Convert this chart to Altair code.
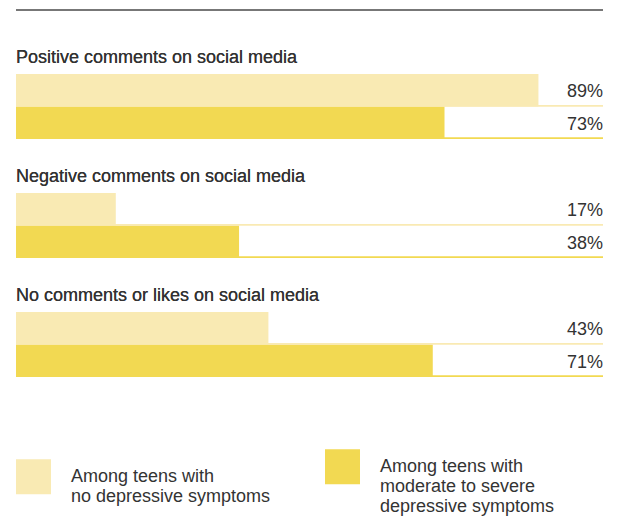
import altair as alt
import pandas as pd

categories = [
    "Positive comments on social media",
    "Negative comments on social media",
    "No comments or likes on social media",
]
series = [
    "Among teens with\nno depressive symptoms",
    "Among teens with\nmoderate to severe\ndepressive symptoms",
]
no_symptoms = [89, 17, 43]
moderate_severe = [73, 38, 71]
colors = ["#F9EAB3", "#F2D952"]

rows = []
for i, c in enumerate(categories):
    for s, vals in zip(series, [no_symptoms, moderate_severe]):
        rows.append({"category": c, "group": s, "value": vals[i], "label": f"{vals[i]}%"})
df = pd.DataFrame(rows)

FONT = "Liberation Sans"
TXT = "#333333"

x_scale = alt.Scale(domain=[0, 100], nice=False, zero=True)
y_scale = alt.Scale(domain=categories, paddingInner=0.4538, paddingOuter=0.538)
off_scale = alt.Scale(domain=series, paddingInner=0, paddingOuter=0)
color_scale = alt.Scale(domain=series, range=colors)

legend = alt.Legend(
    title=None, orient="none", legendX=0, legendY=439,
    direction="horizontal", columns=2,
    symbolType="square", symbolSize=1225, symbolStrokeWidth=0, symbolOpacity=1,
    labelFont=FONT, labelFontSize=18, labelColor=TXT, labelOffset=20,
    columnPadding=54, labelLimit=400, labelBaseline="middle",
    labelExpr="split(datum.label, '\\n')",
)

base = alt.Chart(df)

bars = base.mark_bar().encode(
    x=alt.X("value:Q", scale=x_scale, axis=None),
    y=alt.Y("category:N", scale=y_scale, axis=None),
    yOffset=alt.YOffset("group:N", scale=off_scale),
    color=alt.Color("group:N", scale=color_scale, legend=legend),
)

# thin baseline under each bar row (band centre = bottom of first row)
line_a = base.mark_rule(strokeWidth=1.5, color=colors[0], yOffset=-0.75).encode(
    x=alt.datum(0), x2=alt.datum(100),
    y=alt.Y("category:N", scale=y_scale, axis=None),
)
line_b = base.mark_rule(strokeWidth=1.5, color=colors[1], yOffset=31.75).encode(
    x=alt.datum(0), x2=alt.datum(100),
    y=alt.Y("category:N", scale=y_scale, axis=None),
)

top_rule = base.mark_rule(color="#777777", strokeWidth=2).encode(
    x=alt.datum(0), x2=alt.datum(100), y=alt.value(0)
)

values = base.mark_text(
    align="right", baseline="middle", dy=2, font=FONT, fontSize=18, color=TXT
).encode(
    x=alt.datum(100),
    y=alt.Y("category:N", scale=y_scale, axis=None),
    yOffset=alt.YOffset("group:N", scale=off_scale),
    text="label:N",
)

cat_labels = base.mark_text(
    align="left", baseline="alphabetic", dy=-11, font=FONT, fontSize=18, color=TXT
).encode(
    x=alt.datum(0),
    y=alt.Y("category:N", scale=y_scale, axis=None, bandPosition=0),
    text="category:N",
)

chart = (
    alt.layer(bars, line_a, line_b, top_rule, values, cat_labels)
    .properties(width=587, height=431, padding={"left": 7, "top": 1, "right": 5, "bottom": 5})
    .configure_view(stroke=None)
)

chart.save("out.html", embed_options={"renderer": "svg", "actions": False})
